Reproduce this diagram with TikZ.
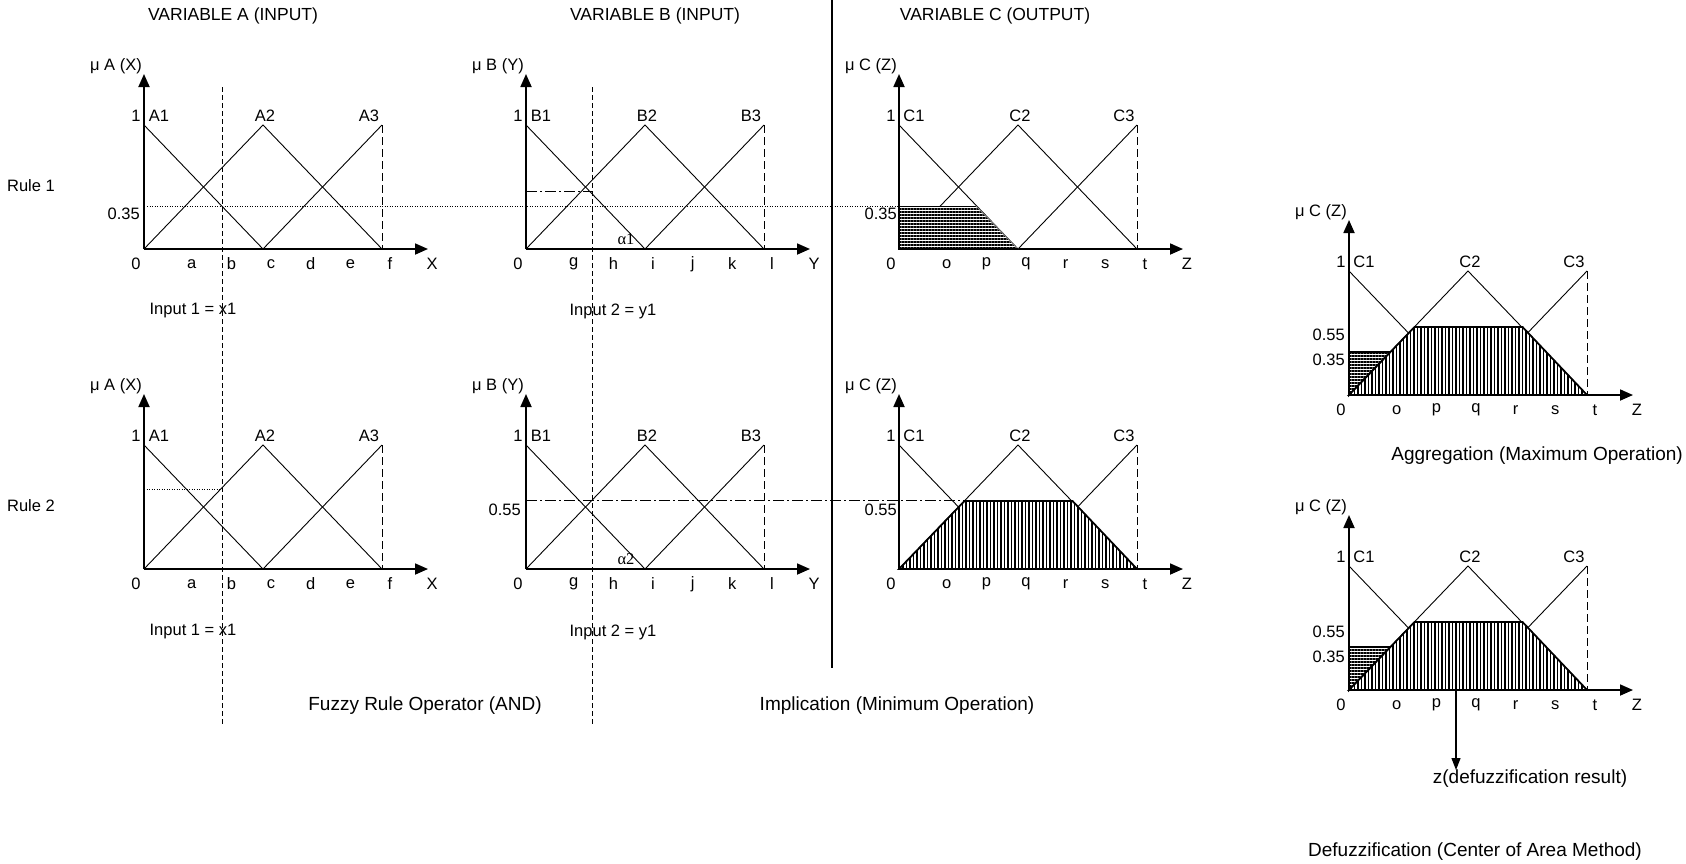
\documentclass[tikz,border=0pt]{standalone}
\usepackage{fontspec}
\setmainfont{Liberation Sans}
\newfontfamily\greekfont{Liberation Serif}
\usetikzlibrary{arrows.meta, positioning, patterns.meta}

\begin{document}
\begin{tikzpicture}[x=1pt, y=-1pt,
    lbl/.style={font=\fontsize{16.5}{19}\selectfont, inner sep=0pt},
    head/.style={font=\fontsize{17.5}{20}\selectfont, inner sep=0pt},
    captxt/.style={font=\fontsize{19}{22}\selectfont, inner sep=0pt},
    memb/.style={line width=0.9pt},
    axis/.style={line width=1.8pt, -{Triangle[length=13pt, width=11pt]}},
    input/.style={line width=0.9pt, dash pattern=on 5pt off 3pt},
    edge/.style={line width=0.9pt, dash pattern=on 8pt off 4pt},
    level/.style={line width=0.8pt, dash pattern=on 1pt off 1.5pt},
    cut/.style={line width=0.9pt, dash pattern=on 11pt off 3pt on 2pt off 3pt},
    hfill/.style={preaction={fill=white}, pattern={Lines[angle=0, distance=3pt, line width=1.1pt]}},
    vfill/.style={preaction={fill=white}, pattern={Lines[angle=90, distance=3.5pt, line width=1.1pt]}},
    pics/panel/.style n args={3}{code={
        \draw[axis] (0,0) -- (0,-175);
        \draw[axis] (0,0) -- (284,0);
        \draw[memb] (0,-124) -- (119,0);
        \draw[memb] (0,0) -- (119,-124) -- (238,0);
        \draw[memb] (119,0) -- (238,-124);
        \draw[edge] (238,-124) -- (238,0);
        \node[lbl, anchor=east] (-mu) at (-2,-183) {μ #1 (#2)};
        \node[lbl] (-one) at (-8,-133) {1};
        \node[lbl] (-s1) at (15,-133) {#11};
        \node[lbl] (-s2) at (121,-133) {#12};
        \node[lbl] (-s3) at (225,-133) {#13};
        \node[lbl] (-zero) at (-8,15) {0};
        \foreach \t [count=\i] in {#3}
            \node[lbl] (-t\i) at (\i*39.67+8,15) {\t};
        \node[lbl] (-var) at (288,15) {#2};
    }}
]
\useasboundingbox (0,0) rectangle (1686,863);

% headings
\node[head] (varA) at (233,16) {VARIABLE A (INPUT)};
\node[head] (varB) at (655,16) {VARIABLE B (INPUT)};
\node[head] (varC) at (995,16) {VARIABLE C (OUTPUT)};
\node[lbl] (rule1) at (31,186) {Rule 1};
\node[lbl] (rule2) at (31,506) {Rule 2};
\draw[line width=1.3pt] (832,0) -- (832,668);

% rule panels
\pic (pa1) at (144,249) {panel={A}{X}{a,b,c,d,e,f}};
\pic (pb1) at (526,249) {panel={B}{Y}{g,h,i,j,k,l}};
\pic (pc1) at (899,249) {panel={C}{Z}{o,p,q,r,s,t}};
\pic (pa2) at (144,569) {panel={A}{X}{a,b,c,d,e,f}};
\pic (pb2) at (526,569) {panel={B}{Y}{g,h,i,j,k,l}};
\pic (pc2) at (899,569) {panel={C}{Z}{o,p,q,r,s,t}};
\pic (pagg) at (1349,395) {panel={C}{Z}{o,p,q,r,s,t}};
\pic (pdef) at (1349,690) {panel={C}{Z}{o,p,q,r,s,t}};

% inputs
\draw[input] (222,87) -- (222,726);
\draw[input] (592,87) -- (592,726);
\node[lbl] (in1a) at (193,311) {Input 1 = x1};
\node[lbl] (in2a) at (613,311) {Input 2 = y1};
\node[lbl] (in1b) at (193,632) {Input 1 = x1};
\node[lbl] (in2b) at (613,632) {Input 2 = y1};

% firing levels
\draw[level] (147,206) -- (899,206);
\draw[cut] (526,191) -- (592,191);
\draw[level] (144,489) -- (222,489);
\draw[cut] (526,500) -- (1073,500);
\node[lbl, anchor=east] (v35a) at (140,214) {0.35};
\node[lbl, anchor=east] (v35c) at (897,214) {0.35};
\node[lbl, anchor=east] (v55b) at (521,510) {0.55};
\node[lbl, anchor=east] (v55c) at (897,510) {0.55};
\node[font=\greekfont\fontsize{16.5}{19}\selectfont, inner sep=0pt] (al1) at (626,239) {α1};
\node[font=\greekfont\fontsize{16.5}{19}\selectfont, inner sep=0pt] (al2) at (626,559) {α2};

% implication
\fill[hfill] (899,249) -- (899,206) -- (976,206) -- (1018,249) -- cycle;
\draw[memb] (899,206) -- (976,206);
\draw[memb, gray] (976,206) -- (1018,249);
\draw[line width=1.8pt] (899,206) -- (899,249) -- (1018,249);
\draw[vfill, line width=1.8pt] (899,569) -- (964.5,501) -- (1072.5,501) -- (1137,569) -- cycle;

% aggregation
\draw[hfill, line width=1.8pt] (1349,395) -- (1349,352) -- (1390.5,352) -- cycle;
\draw[vfill, line width=1.8pt] (1349,395) -- (1414.5,327) -- (1522.5,327) -- (1587,395) -- cycle;
\node[lbl, anchor=east] (v55g) at (1345,335) {0.55};
\node[lbl, anchor=east] (v35g) at (1345,360) {0.35};

% defuzzification
\draw[hfill, line width=1.8pt] (1349,690) -- (1349,647) -- (1390.5,647) -- cycle;
\draw[vfill, line width=1.8pt] (1349,690) -- (1414.5,622) -- (1522.5,622) -- (1587,690) -- cycle;
\node[lbl, anchor=east] (v55d) at (1345,632) {0.55};
\node[lbl, anchor=east] (v35d) at (1345,657) {0.35};
\coordinate (cog) at (1456,663);
\node[captxt, anchor=north] (zres) at (1530,770) {z(defuzzification result)};
\draw[line width=1.2pt, -{Triangle[length=12pt, width=9pt]}] (cog) -- (cog |- zres.north);

% captions
\node[captxt] (capand) at (425,706) {Fuzzy Rule Operator (AND)};
\node[captxt] (capimp) at (897,706) {Implication (Minimum Operation)};
\node[captxt, anchor=east] (capagg) at (1683,456) {Aggregation (Maximum Operation)};
\node[captxt] (capdef) at (1475,852) {Defuzzification (Center of Area Method)};
\end{tikzpicture}
\end{document}
